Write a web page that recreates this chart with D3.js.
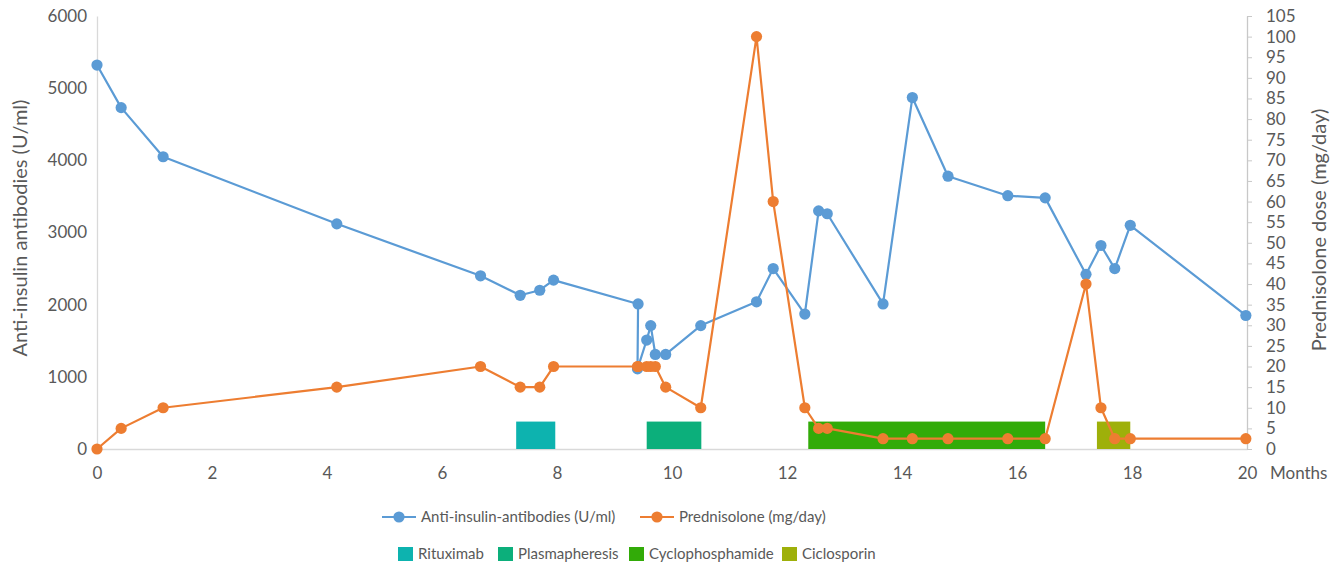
<!DOCTYPE html>
<html>
<head>
<meta charset="utf-8">
<script src="https://cdn.jsdelivr.net/npm/d3@7"></script>
<style>
  html, body { margin: 0; padding: 0; background: #fff; }
  svg { display: block; font-family: Lato, "Noto Sans", sans-serif; }
</style>
</head>
<body>
<svg id="chart" width="1344" height="565"></svg>
<script>
'use strict';

// months since start, shared by both series
var months = [0, 0.42, 1.15, 4.17, 6.67, 7.36, 7.70, 7.94, 9.41, 9.40,
  9.56, 9.63, 9.71, 9.89, 10.50, 11.47, 11.76, 12.31, 12.55, 12.70,
  13.67, 14.18, 14.80, 15.84, 16.49, 17.20, 17.46, 17.70, 17.97, 19.98];
var antibodies = [5320, 4730, 4050, 3120, 2400, 2130, 2200, 2340, 2010, 1110,
  1510, 1710, 1310, 1310, 1710, 2040, 2500, 1870, 3300, 3260,
  2010, 4870, 3780, 3510, 3480, 2420, 2820, 2500, 3100, 1850];
var prednisolone = [0, 5, 10, 15, 20, 15, 15, 20, 20, 20,
  20, 20, 20, 15, 10, 100, 60, 10, 5, 5,
  2.5, 2.5, 2.5, 2.5, 2.5, 40, 10, 2.5, 2.5, 2.5];

var treatments = ['Rituximab', 'Plasmapheresis', 'Cyclophosphamide', 'Ciclosporin'];
var treatmentStart = [7.29, 9.56, 12.37, 17.39];
var treatmentEnd = [7.97, 10.51, 16.49, 17.97];
var treatmentLevel = 380; // bar height in antibody units

var xTicks = d3.range(0, 21, 2);
var leftTicks = d3.range(0, 6001, 1000);
var rightTicks = d3.range(0, 106, 5);

var treatmentColor = {
  Rituximab: '#0db3af',
  Plasmapheresis: '#0caf7b',
  Cyclophosphamide: '#32ab08',
  Ciclosporin: '#9eb00a'
};
var blue = '#5b9bd5';
var orange = '#ed7d31';

var svg = d3.select('#chart');

var x = d3.scaleLinear().domain([0, 20]).range([97, 1247]);
var yL = d3.scaleLinear().domain([0, 6000]).range([449, 16]);
var yR = d3.scaleLinear().domain([0, 105]).range([449, 16]);

// axes
var gx = svg.append('g')
  .attr('transform', 'translate(0,449)')
  .call(d3.axisBottom(x).tickValues(xTicks).tickSize(0).tickPadding(18));

var gl = svg.append('g')
  .attr('transform', 'translate(97,0)')
  .call(d3.axisLeft(yL).tickValues(leftTicks).tickFormat(d3.format('d')).tickSize(0).tickPadding(10));

var gr = svg.append('g')
  .attr('transform', 'translate(1247,0)')
  .call(d3.axisRight(yR).tickValues(rightTicks).tickSizeInner(5).tickSizeOuter(0).tickPadding(14));

[gx, gl, gr].forEach(function (g) {
  g.select('.domain').attr('stroke', '#d9d9d9').attr('stroke-width', 1.3);
  g.selectAll('.tick line').attr('stroke', '#c8c8c8');
  g.selectAll('.tick text')
    .attr('fill', '#595959')
    .style('font-size', '17px')
    .style('font-family', 'Lato, sans-serif');
});
gr.select('.domain').attr('stroke', '#c8c8c8');

svg.append('text')
  .attr('transform', 'translate(27,228) rotate(-90)')
  .attr('text-anchor', 'middle')
  .attr('fill', '#595959')
  .style('font-size', '20px')
  .text('Anti-insulin antibodies (U/ml)');

svg.append('text')
  .attr('transform', 'translate(1326,230) rotate(-90)')
  .attr('text-anchor', 'middle')
  .attr('fill', '#595959')
  .style('font-size', '20px')
  .text('Prednisolone dose (mg/day)');

svg.append('text')
  .attr('x', 1270)
  .attr('y', 479)
  .attr('fill', '#595959')
  .style('font-size', '17px')
  .text('Months');

// treatment bars
svg.append('g').selectAll('rect')
  .data(treatments)
  .enter()
  .append('rect')
  .attr('x', function (d, i) { return x(treatmentStart[i]); })
  .attr('y', yL(treatmentLevel))
  .attr('width', function (d, i) { return x(treatmentEnd[i]) - x(treatmentStart[i]); })
  .attr('height', yL(0) - yL(treatmentLevel))
  .attr('fill', function (d) { return treatmentColor[d]; });

// series
var drawSeries = function (values, y, color) {
  var pts = months.map(function (m, i) { return [x(m), y(values[i])]; });
  svg.append('path')
    .attr('d', d3.line()(pts))
    .attr('fill', 'none')
    .attr('stroke', color)
    .attr('stroke-width', 2.2)
    .attr('stroke-linejoin', 'round');
  svg.append('g').selectAll('circle')
    .data(pts)
    .enter()
    .append('circle')
    .attr('cx', function (d) { return d[0]; })
    .attr('cy', function (d) { return d[1]; })
    .attr('r', 5.6)
    .attr('fill', color);
};
drawSeries(antibodies, yL, blue);
drawSeries(prednisolone, yR, orange);

// legend
var lineLegend = [
  { name: 'Anti-insulin-antibodies (U/ml)', color: blue, x: 382 },
  { name: 'Prednisolone (mg/day)', color: orange, x: 640 }
];
var lg = svg.append('g').selectAll('g')
  .data(lineLegend)
  .enter()
  .append('g')
  .attr('transform', function (d) { return 'translate(' + d.x + ',517)'; });
lg.append('line')
  .attr('x1', 0).attr('x2', 34)
  .attr('stroke', function (d) { return d.color; })
  .attr('stroke-width', 2.2);
lg.append('circle')
  .attr('cx', 17).attr('r', 5.6)
  .attr('fill', function (d) { return d.color; });
lg.append('text')
  .attr('x', 39).attr('dy', '0.35em')
  .attr('fill', '#595959')
  .style('font-size', '15px')
  .text(function (d) { return d.name; });

var boxX = [398, 498, 629, 782];
var bg = svg.append('g').selectAll('g')
  .data(treatments)
  .enter()
  .append('g')
  .attr('transform', function (d, i) { return 'translate(' + boxX[i] + ',554)'; });
bg.append('rect')
  .attr('x', 0).attr('y', -7)
  .attr('width', 15).attr('height', 14)
  .attr('fill', function (d) { return treatmentColor[d]; });
bg.append('text')
  .attr('x', 20).attr('dy', '0.35em')
  .attr('fill', '#595959')
  .style('font-size', '15px')
  .text(function (d) { return d; });
</script>
</body>
</html>
